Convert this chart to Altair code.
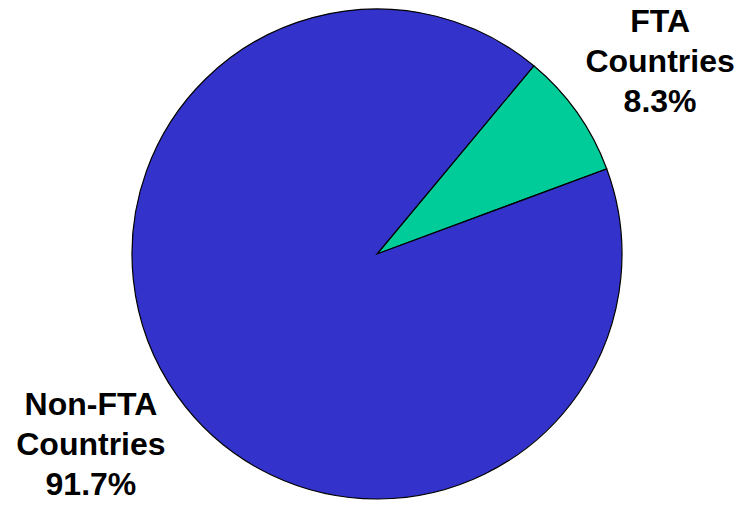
import math
import altair as alt
import pandas as pd

categories = ["FTA Countries", "Non-FTA Countries"]
shares = [8.3, 91.7]
labels = [["FTA", "Countries", "8.3%"], ["Non-FTA", "Countries", "91.7%"]]
colors = ["#00CC99", "#3333CC"]

df = pd.DataFrame({
    "category": categories,
    "share": shares,
    "label": labels,
    "idx": [0, 1],
})

start = math.radians(39.8)
theta_scale = alt.Scale(range=[start, start + 2 * math.pi])

base = alt.Chart(df).encode(
    theta=alt.Theta("share:Q", stack=True, scale=theta_scale),
    order=alt.Order("idx:Q"),
)

pie = base.mark_arc(outerRadius=245, stroke="black", strokeWidth=1.2).encode(
    color=alt.Color("category:N", scale=alt.Scale(domain=categories, range=colors), legend=None)
)

text_style = dict(
    radius=343, font="Liberation Sans", fontWeight="bold", fontSize=32,
    lineHeight=40, align="center", baseline="middle", color="black"
)

text_fta = base.mark_text(dx=3, dy=-34, **text_style).encode(
    text="label", opacity=alt.condition("datum.idx == 0", alt.value(1), alt.value(0))
)
text_non = base.mark_text(dx=-6, dy=-47, **text_style).encode(
    text="label", opacity=alt.condition("datum.idx == 1", alt.value(1), alt.value(0))
)

chart = alt.layer(pie, text_fta, text_non).properties(
    width=734, height=508,
    padding={"left": 10, "top": 0, "right": 0, "bottom": 0},
    autosize=alt.AutoSizeParams(type="none"),
).configure_view(stroke=None)

chart.save("out.html", embed_options={"renderer": "svg", "actions": False})
